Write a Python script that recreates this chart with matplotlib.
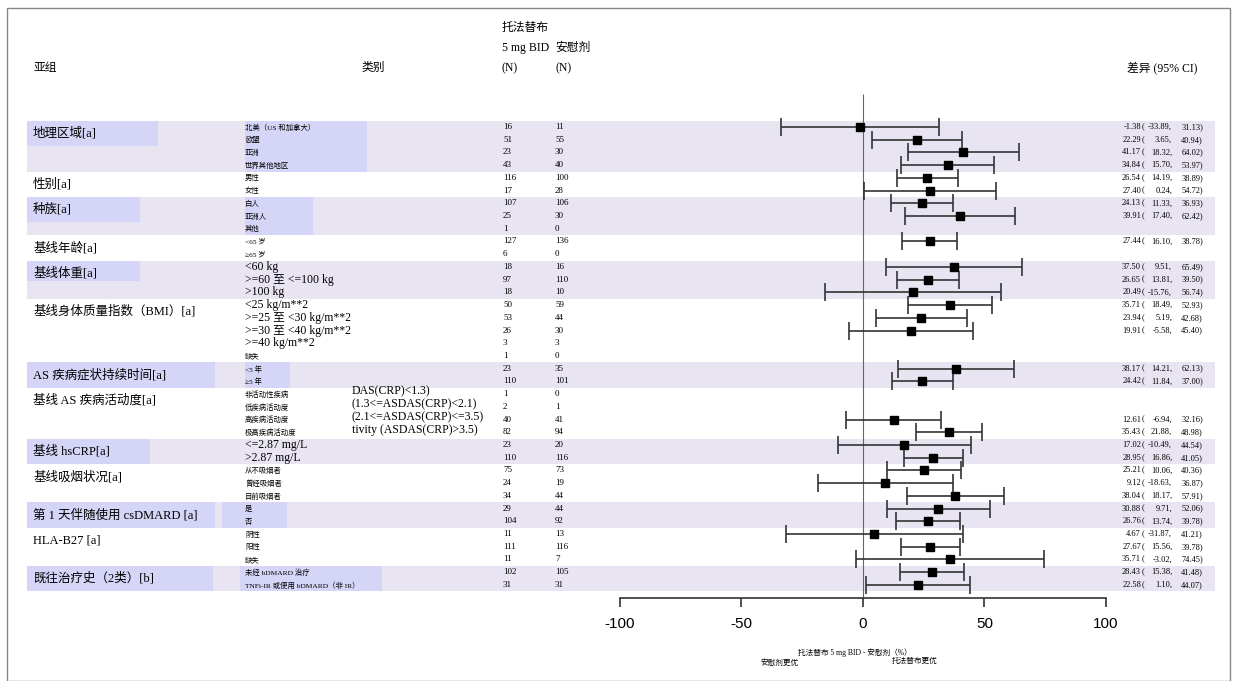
import numpy as np
import matplotlib
matplotlib.use('Agg')
import matplotlib.pyplot as plt
from matplotlib.patches import Rectangle
from matplotlib.transforms import blended_transform_factory

plt.rcParams['font.family'] = ['Liberation Serif', 'Noto Sans CJK SC']

subgroups = ['地理区域[a]', '性别[a]', '种族[a]', '基线年龄[a]', '基线体重[a]',
             '基线身体质量指数（BMI）[a]', 'AS 疾病症状持续时间[a]', '基线 AS 疾病活动度[a]',
             '基线 hsCRP[a]', '基线吸烟状况[a]', '第 1 天伴随使用 csDMARD [a]',
             'HLA-B27 [a]', '既往治疗史（2类）[b]']
categories = [
    ['北美（US 和加拿大）', '欧盟', '亚洲', '世界其他地区'],
    ['男性', '女性'],
    ['白人', '亚洲人', '其他'],
    ['<65 岁', '≥65 岁'],
    ['<60 kg', '>=60 至 <=100 kg', '>100 kg'],
    ['<25 kg/m**2', '>=25 至 <30 kg/m**2', '>=30 至 <40 kg/m**2', '>=40 kg/m**2', '缺失'],
    ['<5 年', '≥5 年'],
    ['非活动性疾病', '低疾病活动度', '高疾病活动度', '极高疾病活动度'],
    ['<=2.87 mg/L', '>2.87 mg/L'],
    ['从不吸烟者', '曾经吸烟者', '目前吸烟者'],
    ['是', '否'],
    ['阴性', '阳性', '缺失'],
    ['未经 bDMARD 治疗', 'TNFi-IR 或使用 bDMARD（非 IR）'],
]
activity_notes = ['DAS(CRP)<1.3)', '(1.3<=ASDAS(CRP)<2.1)',
                  '(2.1<=ASDAS(CRP)<=3.5)', 'tivity (ASDAS(CRP)>3.5)']

n_tofa = [16, 51, 23, 43, 116, 17, 107, 25, 1, 127, 6, 18, 97, 18, 50, 53, 26, 3, 1,
          23, 110, 1, 2, 40, 82, 23, 110, 75, 24, 34, 29, 104, 11, 111, 11, 102, 31]
n_pbo = [11, 55, 30, 40, 100, 28, 106, 30, 0, 136, 0, 16, 110, 10, 59, 44, 30, 3, 0,
         35, 101, 0, 1, 41, 94, 20, 116, 73, 19, 44, 44, 92, 13, 116, 7, 105, 31]

nan = np.nan
diff = [-1.38, 22.29, 41.17, 34.84, 26.54, 27.40, 24.13, 39.91, nan, 27.44, nan,
        37.50, 26.65, 20.49, 35.71, 23.94, 19.91, nan, nan, 38.17, 24.42, nan, nan,
        12.61, 35.43, 17.02, 28.95, 25.21, 9.12, 38.04, 30.88, 26.76, 4.67, 27.67,
        35.71, 28.43, 22.58]
ci_low = [-33.89, 3.65, 18.32, 15.70, 14.19, 0.24, 11.33, 17.40, nan, 16.10, nan,
          9.51, 13.81, -15.76, 18.49, 5.19, -5.58, nan, nan, 14.21, 11.84, nan, nan,
          -6.94, 21.88, -10.49, 16.86, 10.06, -18.63, 18.17, 9.71, 13.74, -31.87, 15.56,
          -3.02, 15.38, 1.10]
ci_high = [31.13, 40.94, 64.02, 53.97, 38.89, 54.72, 36.93, 62.42, nan, 38.78, nan,
           65.49, 39.50, 56.74, 52.93, 42.68, 45.40, nan, nan, 62.13, 37.00, nan, nan,
           32.16, 48.98, 44.54, 41.05, 40.36, 36.87, 57.91, 52.06, 39.78, 41.21, 39.78,
           74.45, 41.48, 44.07]

ticks = [-100, -50, 0, 50, 100]

W, H = 1236, 681
fig = plt.figure(figsize=(W / 100, H / 100), dpi=100)
ax = fig.add_axes([0, 0, 1, 1])
ax.axis('off')

# x: 0 sits at pixel 863, 2.43 px per unit; rows start at pixel 127, 12.72 px apart
x0px, xscale = 863, 2.43
row0, rowh = 127, 12.72
ax.set_xlim(-x0px / xscale, (W - x0px) / xscale)
ax.set_ylim((H - row0) / rowh, -row0 / rowh)

T = blended_transform_factory(fig.transFigure, ax.transData)
def fx(p):
    return p / W
def fy(p):
    return 1 - p / H

band_light = '#e9e4f1'
band_dark = '#d5d5f8'
# shaded groups: (label box right px, label box rows, category box x0, x1)
boxes = {0: (158, 2.0, 245, 367), 2: (140, 2.0, 245, 313), 4: (140, 1.6, None, None),
         6: (215, 2.0, 245, 290), 8: (150, 2.0, None, None), 10: (215, 2.0, 222, 287),
         12: (213, 2.0, 240, 382)}

starts = np.cumsum([0] + [len(c) for c in categories])
rows = np.arange(starts[-1])

for g, name in enumerate(subgroups):
    r0, n = starts[g], len(categories[g])
    if g in boxes:
        lr, lh, c0, c1 = boxes[g]
        ax.add_patch(Rectangle((fx(27), r0 - 0.5), fx(1215) - fx(27), n,
                               transform=T, color=band_light, lw=0, zorder=0))
        ax.add_patch(Rectangle((fx(27), r0 - 0.5), fx(lr) - fx(27), min(lh, n),
                               transform=T, color=band_dark, lw=0, zorder=0))
        if c0 is not None:
            ax.add_patch(Rectangle((fx(c0), r0 - 0.5), fx(c1) - fx(c0), n,
                                   transform=T, color=band_dark, lw=0, zorder=0))
    ax.text(fx(33), r0 + 0.5, name, transform=T, fontsize=9, va='center', ha='left')
    for j, cat in enumerate(categories[g]):
        big = ('kg' in cat) or ('mg' in cat)
        ax.text(fx(245), r0 + j, cat, transform=T, fontsize=8.5 if big else 5.3,
                va='center', ha='left')
        if g == 7:
            ax.text(fx(352), r0 + j - 0.2, activity_notes[j], transform=T,
                    fontsize=8.5, va='center', ha='left')

for i in rows:
    ax.text(fx(503), i, str(n_tofa[i]), transform=T, fontsize=6.5, va='center')
    ax.text(fx(555), i, str(n_pbo[i]), transform=T, fontsize=6.5, va='center')
    if not np.isnan(diff[i]):
        ax.text(fx(1141), i, f'{diff[i]:.2f}', transform=T, fontsize=6, va='center', ha='right')
        ax.text(fx(1142), i, '(', transform=T, fontsize=6, va='center', ha='left')
        ax.text(fx(1172), i, f'{ci_low[i]:.2f},', transform=T, fontsize=6, va='center', ha='right')
        ax.text(fx(1203), i, f'{ci_high[i]:.2f})', transform=T, fontsize=6, va='center', ha='right')

d = np.array(diff)
ax.errorbar(d, rows, xerr=[d - np.array(ci_low), np.array(ci_high) - d], fmt='s',
            color='black', ecolor='#333333', elinewidth=1.2, capsize=6.5, capthick=1.2,
            markersize=5.5, zorder=3)

# reference line and bottom axis
axis_y = (598 - row0) / rowh
ax.vlines(0, -2.6, axis_y, color='#666666', lw=0.8, zorder=2)
ax.plot([ticks[0], ticks[-1]], [axis_y, axis_y], color='#333333', lw=1.2)
ax.vlines(ticks, axis_y, axis_y + 0.7, color='#333333', lw=1.2)
for t in ticks:
    ax.text(t, (624 - row0) / rowh, str(t), fontsize=11, ha='center', va='center',
            family=['Liberation Sans'])

# headers
fig.text(fx(33), fy(68), '亚组', fontsize=8.5, va='center')
fig.text(fx(362), fy(68), '类别', fontsize=8.5, va='center')
fig.text(fx(502), fy(28), '托法替布', fontsize=8.5, va='center')
fig.text(fx(502), fy(48), '5 mg BID', fontsize=8.5, va='center')
fig.text(fx(502), fy(68), '(N)', fontsize=8.5, va='center')
fig.text(fx(555), fy(48), '安慰剂', fontsize=8.5, va='center')
fig.text(fx(555), fy(68), '(N)', fontsize=8.5, va='center')
fig.text(fx(1127), fy(68), '差异 (95% CI)', fontsize=8.5, va='center')

fig.text(fx(855), fy(653), '托法替布 5 mg BID - 安慰剂（%）', fontsize=5.5, ha='center', va='center')
fig.text(fx(780), fy(663), '安慰剂更优', fontsize=5.5, ha='center', va='center')
fig.text(fx(915), fy(661), '托法替布更优', fontsize=5.5, ha='center', va='center')

# frame around the page
fig.patches.append(Rectangle((fx(7), 0), fx(1230) - fx(7), fy(8), transform=fig.transFigure,
                             fill=False, edgecolor='#888888', lw=1))

fig.savefig('out.png', dpi=100)
